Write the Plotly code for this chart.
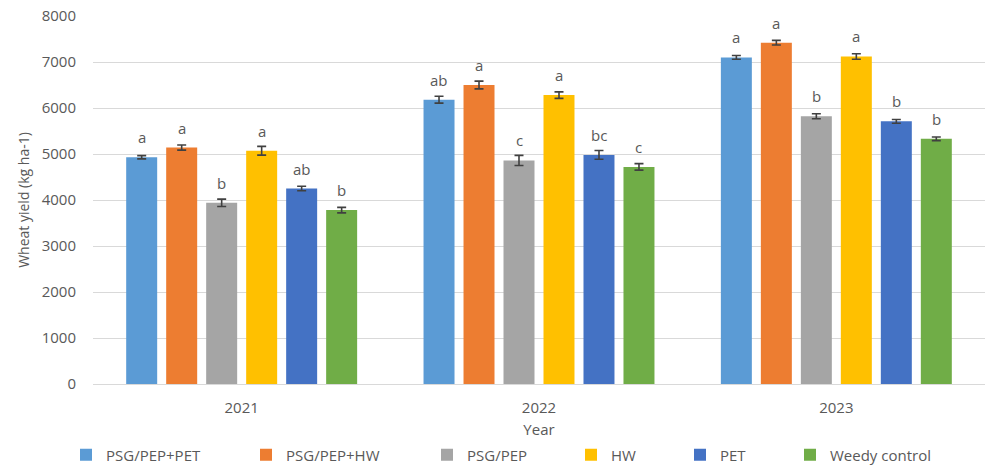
import plotly.graph_objects as go

# Wheat grain yield by weed-management treatment and season
years = ["2021", "2022", "2023"]
treatments = ["PSG/PEP+PET", "PSG/PEP+HW", "PSG/PEP", "HW", "PET", "Weedy control"]
colors = ["#5B9BD5", "#ED7D31", "#A5A5A5", "#FFC000", "#4472C4", "#70AD47"]

yield_psg_pep_pet = [4930, 6180, 7100]
yield_psg_pep_hw = [5140, 6500, 7420]
yield_psg_pep = [3940, 4860, 5820]
yield_hw = [5070, 6280, 7120]
yield_pet = [4250, 4980, 5710]
yield_weedy = [3780, 4720, 5330]

se_psg_pep_pet = [35, 75, 40]
se_psg_pep_hw = [55, 85, 50]
se_psg_pep = [80, 110, 55]
se_hw = [95, 70, 60]
se_pet = [50, 95, 40]
se_weedy = [60, 70, 40]

# mean-separation letters
let_psg_pep_pet = ["a", "ab", "a"]
let_psg_pep_hw = ["a", "a", "a"]
let_psg_pep = ["b", "c", "b"]
let_hw = ["a", "a", "a"]
let_pet = ["ab", "bc", "b"]
let_weedy = ["b", "c", "b"]

yields = [yield_psg_pep_pet, yield_psg_pep_hw, yield_psg_pep, yield_hw, yield_pet, yield_weedy]
errors = [se_psg_pep_pet, se_psg_pep_hw, se_psg_pep, se_hw, se_pet, se_weedy]
letters = [let_psg_pep_pet, let_psg_pep_hw, let_psg_pep, let_hw, let_pet, let_weedy]

W, H = 987, 466
M_L, M_R, M_T, M_B = 93, 2, 16, 82
BARGAP = 0.193
BARGROUPGAP = 0.225
FONT = "Open Sans"
TXT = "#595959"
GRID = "#D9D9D9"

# legend entry left edges and vertical centre (px on the page)
legend_left_px = [66, 246, 427, 571, 680, 790]
legend_mid_px = 455

plot_w = W - M_L - M_R
slot_px = plot_w / len(years) * (1 - BARGAP) / len(treatments)

fig = go.Figure()
for i, (name, col) in enumerate(zip(treatments, colors)):
    lg = "legend" if i == 0 else f"legend{i + 1}"
    fig.add_trace(go.Bar(
        x=years, y=yields[i], name=name,
        marker=dict(color=col, line=dict(width=0)),
        error_y=dict(type="data", array=errors[i], color="#404040",
                     thickness=1.6, width=4.5),
        legend=lg,
    ))
    shift = (i - (len(treatments) - 1) / 2) * slot_px
    # letters sit above each bar; x is the category index on the category axis
    for j, (v, lt) in enumerate(zip(yields[i], letters[i])):
        fig.add_annotation(x=j, y=v, text=lt, showarrow=False,
                           xshift=shift, yshift=20, yanchor="middle",
                           font=dict(family=FONT, size=15, color=TXT))

layout_legends = {}
for i, lx in enumerate(legend_left_px):
    key = "legend" if i == 0 else f"legend{i + 1}"
    layout_legends[key] = dict(
        xref="container", yref="container",
        x=lx / W, xanchor="left",
        y=(H - legend_mid_px) / H, yanchor="middle",
        orientation="h", bgcolor="rgba(0,0,0,0)", borderwidth=0,
        font=dict(family=FONT, size=15, color=TXT), itemwidth=30,
    )

fig.update_layout(
    width=W, height=H,
    margin=dict(l=M_L, r=M_R, t=M_T, b=M_B, pad=0, autoexpand=False),
    paper_bgcolor="white", plot_bgcolor="white",
    barmode="group", bargap=BARGAP, bargroupgap=BARGROUPGAP,
    font=dict(family=FONT, size=15, color=TXT),
    showlegend=True,
    **layout_legends,
)
# invisible outside ticks set the gap between the axis line and the year labels
fig.update_xaxes(
    type="category", range=[-0.5, len(years) - 0.5], automargin=True,
    showline=True, linecolor=GRID, linewidth=1,
    showgrid=False, ticks="outside", ticklen=10, tickcolor="rgba(0,0,0,0)",
    tickfont=dict(family=FONT, size=15, color=TXT),
    title=dict(text="Year", standoff=12, font=dict(family=FONT, size=15, color=TXT)),
)
fig.update_yaxes(
    range=[0, 8000], dtick=1000, showgrid=True, gridcolor=GRID, gridwidth=1,
    automargin=True,
    zeroline=False, showline=False, ticks="", ticklabelstandoff=16,
    tickfont=dict(family=FONT, size=15, color=TXT),
    title=dict(text="Wheat yield (kg ha-1)", standoff=8,
               font=dict(family=FONT, size=14, color=TXT)),
)

fig.write_html("out.html")
